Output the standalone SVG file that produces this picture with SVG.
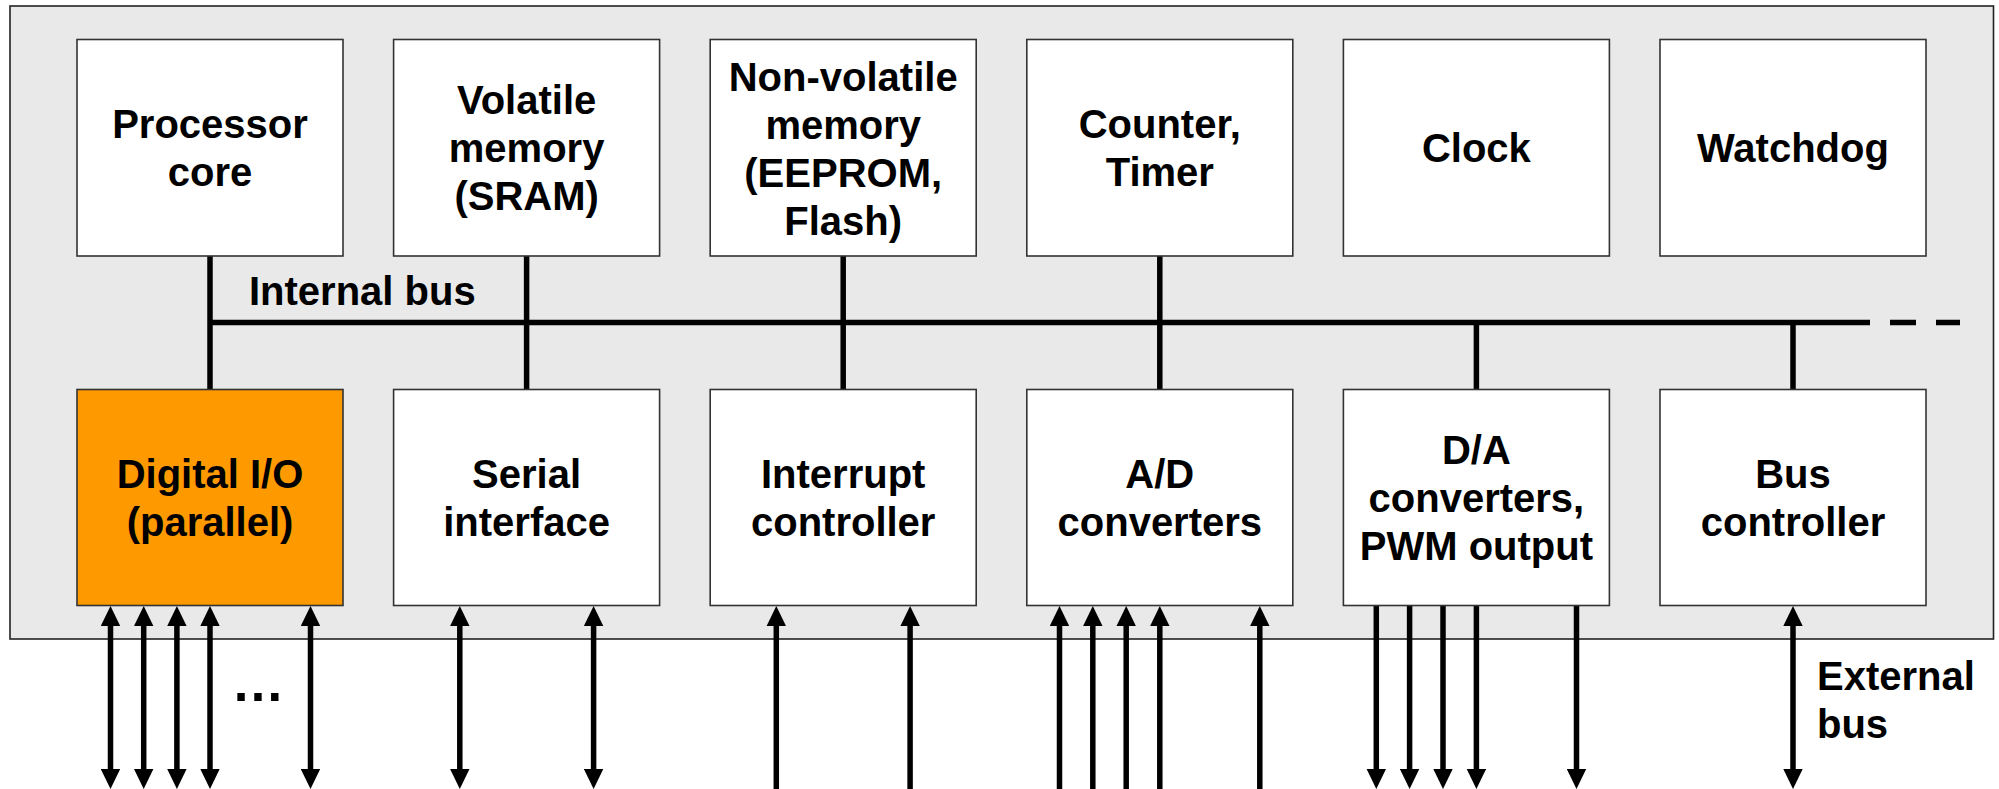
<svg xmlns="http://www.w3.org/2000/svg" width="1999" height="789" viewBox="0 0 1999 789">
<defs>
<style>
.box{fill:#ffffff;stroke:#333333;stroke-width:1.6}
.hl{fill:#ff9900}
.t{font-family:"Liberation Sans",Arial,sans-serif;font-weight:bold;font-size:40px;fill:#000;text-anchor:middle}
.tl{text-anchor:start}
.w{stroke:#000;stroke-width:5.5;fill:none}
.a2{marker-start:url(#ah);marker-end:url(#ah)}
.a1{marker-end:url(#ah)}
</style>
<marker id="ah" viewBox="0 0 20 20" refX="0" refY="10" markerWidth="20" markerHeight="20" markerUnits="userSpaceOnUse" orient="auto-start-reverse">
<path d="M0,0.3 L20,10 L0,19.7 z" fill="#000"/>
</marker>
</defs>
<rect id="panel" x="10" y="6" width="1983.5" height="633" fill="#e9e9e9" stroke="#222" stroke-width="1.6"/>

<g id="connectors">
<path class="w" d="M210,322.5 H1870 M1890,322.5 H1916 M1936,322.5 H1960"/>
<path class="w" d="M210,256 V389.5 M526.6,256 V389.5 M843.2,256 V389.5 M1159.8,256 V389.5 M1476.4,322.5 V389.5 M1793,322.5 V389.5"/>
<g class="w a2">
<path d="M110.5,626 V769"/><path d="M143.7,626 V769"/><path d="M176.9,626 V769"/><path d="M210,626 V769"/><path d="M310.5,626 V769"/>
<path d="M459.8,626 V769"/><path d="M593.6,626 V769"/>
<path d="M1793,626 V769"/>
</g>
<g class="w a1">
<path d="M776.3,789 V626"/><path d="M910.1,789 V626"/>
<path d="M1059.5,789 V626"/><path d="M1092.8,789 V626"/><path d="M1126.2,789 V626"/><path d="M1159.8,789 V626"/><path d="M1259.8,789 V626"/>
<path d="M1376.3,606 V769"/><path d="M1409.6,606 V769"/><path d="M1443,606 V769"/><path d="M1476.4,606 V769"/><path d="M1576.5,606 V769"/>
</g>
</g>

<g id="processor"><rect class="box" x="77" y="39.5" width="266" height="216.5"/>
<text class="t" x="210" y="137.5">Processor</text><text class="t" x="210" y="185.5">core</text></g>
<g id="sram"><rect class="box" x="393.6" y="39.5" width="266" height="216.5"/>
<text class="t" x="526.6" y="113.5">Volatile</text><text class="t" x="526.6" y="161.5">memory</text><text class="t" x="526.6" y="209.5">(SRAM)</text></g>
<g id="nvm"><rect class="box" x="710.2" y="39.5" width="266" height="216.5"/>
<text class="t" x="843.2" y="90.5">Non-volatile</text><text class="t" x="843.2" y="138.5">memory</text><text class="t" x="843.2" y="186.5">(EEPROM,</text><text class="t" x="843.2" y="234.5">Flash)</text></g>
<g id="timer"><rect class="box" x="1026.8" y="39.5" width="266" height="216.5"/>
<text class="t" x="1159.8" y="137.5">Counter,</text><text class="t" x="1159.8" y="185.5">Timer</text></g>
<g id="clock"><rect class="box" x="1343.4" y="39.5" width="266" height="216.5"/>
<text class="t" x="1476.4" y="161.5">Clock</text></g>
<g id="watchdog"><rect class="box" x="1660" y="39.5" width="266" height="216.5"/>
<text class="t" x="1793" y="161.5">Watchdog</text></g>

<g id="dio"><rect class="box hl" x="77" y="389.5" width="266" height="216"/>
<text class="t" x="210" y="487.5">Digital I/O</text><text class="t" x="210" y="535.5">(parallel)</text></g>
<g id="serial"><rect class="box" x="393.6" y="389.5" width="266" height="216"/>
<text class="t" x="526.6" y="487.5">Serial</text><text class="t" x="526.6" y="535.5">interface</text></g>
<g id="irq"><rect class="box" x="710.2" y="389.5" width="266" height="216"/>
<text class="t" x="843.2" y="487.5">Interrupt</text><text class="t" x="843.2" y="535.5">controller</text></g>
<g id="adc"><rect class="box" x="1026.8" y="389.5" width="266" height="216"/>
<text class="t" x="1159.8" y="487.5">A/D</text><text class="t" x="1159.8" y="535.5">converters</text></g>
<g id="dac"><rect class="box" x="1343.4" y="389.5" width="266" height="216"/>
<text class="t" x="1476.4" y="463.5">D/A</text><text class="t" x="1476.4" y="511.5">converters,</text><text class="t" x="1476.4" y="559.5">PWM output</text></g>
<g id="busctrl"><rect class="box" x="1660" y="389.5" width="266" height="216"/>
<text class="t" x="1793" y="487.5">Bus</text><text class="t" x="1793" y="535.5">controller</text></g>

<g id="labels">
<text class="t tl" x="249" y="305">Internal bus</text>
<text class="t" x="258" y="701" style="font-size:53px">…</text>
<text class="t tl" x="1817" y="690">External</text>
<text class="t tl" x="1817" y="738">bus</text>
</g>
</svg>
